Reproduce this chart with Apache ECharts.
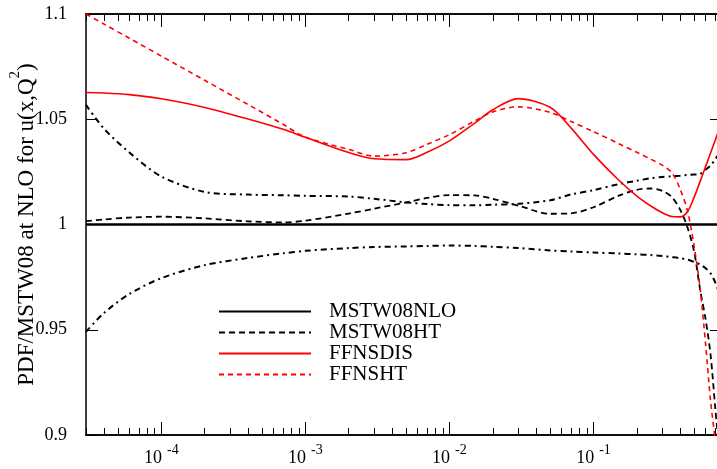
<!DOCTYPE html>
<html>
<head>
<meta charset="utf-8">
<script src="https://cdn.jsdelivr.net/npm/echarts@6/dist/echarts.min.js"></script>
<style>
html,body{margin:0;padding:0;background:#fff;}
#c{width:717px;height:469px;}
</style>
</head>
<body>
<div id="c"></div>
<script>
// x values (Bjorken x) at which curves are sampled
const xValues = [3e-5, 4e-5, 6e-5, 1e-4, 2e-4, 4e-4, 7e-4, 1e-3, 2e-3, 3e-3, 5e-3, 7e-3, 1e-2, 1.5e-2, 2e-2, 3e-2, 5e-2, 7e-2, 0.1, 0.15, 0.2, 0.25, 0.3, 0.35, 0.4, 0.45, 0.5, 0.55, 0.6, 0.65, 0.7, 0.75, 0.8];

const mstw08nlo = xValues.map(() => 1.0);
const mstw08ht = [1.0016, 1.0024, 1.0033, 1.0037, 1.0029, 1.0015, 1.0010, 1.0018, 1.0052, 1.0075, 1.0105, 1.0126, 1.0140, 1.0138, 1.0122, 1.0090, 1.0051, 1.0053, 1.0082, 1.0137, 1.0165, 1.0171, 1.0160, 1.0130, 1.0070, 0.9985, 0.9870, 0.9690, 0.9550, 0.9380, 0.9130, 0.8900, 0.8600];
const ffnsdis = [1.0627, 1.0625, 1.0617, 1.0597, 1.0556, 1.0501, 1.0452, 1.0414, 1.0342, 1.0312, 1.0308, 1.0343, 1.0397, 1.0482, 1.0545, 1.0598, 1.0557, 1.0458, 1.0333, 1.0210, 1.0135, 1.0088, 1.0056, 1.0038, 1.0036, 1.0062, 1.0130, 1.0205, 1.0275, 1.0340, 1.0400, 1.0460, 1.0520];
const ffnsht = [1.1000, 1.0952, 1.0885, 1.0800, 1.0685, 1.0570, 1.0476, 1.0415, 1.0357, 1.0325, 1.0341, 1.0381, 1.0427, 1.0492, 1.0535, 1.0559, 1.0532, 1.0489, 1.0441, 1.0384, 1.0343, 1.0310, 1.0282, 1.0246, 1.0167, 1.0063, 0.9895, 0.9695, 0.9433, 0.9160, 0.8970, 0.8700, 0.8400];
const errUpper = [1.0568, 1.0455, 1.0342, 1.0228, 1.0155, 1.0142, 1.0139, 1.0136, 1.0133, 1.0122, 1.0105, 1.0097, 1.0092, 1.0091, 1.0094, 1.0098, 1.0115, 1.0143, 1.0163, 1.0192, 1.0208, 1.0220, 1.0226, 1.0229, 1.0232, 1.0235, 1.0237, 1.0240, 1.0260, 1.0280, 1.0310, 1.0340, 1.0380];
const errLower = [0.9490, 0.9580, 0.9670, 0.9745, 0.9807, 0.9841, 0.9863, 0.9875, 0.9888, 0.9893, 0.9896, 0.9898, 0.9900, 0.9898, 0.9894, 0.9888, 0.9877, 0.9872, 0.9867, 0.9862, 0.9858, 0.9855, 0.9850, 0.9845, 0.9840, 0.9833, 0.9822, 0.9810, 0.9792, 0.9768, 0.9725, 0.9670, 0.9610];

const xMin = 3e-5, xMax = 0.78;
const yMin = 0.9, yMax = 1.1, yStep = 0.05;
const majorDecades = [-4, -3, -2, -1];
const legendNames = ['MSTW08NLO', 'MSTW08HT', 'FFNSDIS', 'FFNSHT'];

const lx = Math.log10;
const minorTicks = [];
for (let n = -5; n <= -1; n++) {
  for (let k = 2; k <= 9; k++) {
    const v = lx(k * Math.pow(10, n));
    if (v >= lx(xMin) - 1e-9 && v <= lx(xMax)) minorTicks.push(v);
  }
}
const pairs = arr => xValues.map((x, i) => [lx(x), arr[i]]);

const serif = 'Liberation Serif';
const axisLineStyle = { color: '#000', width: 1.5 };

function xAxisDef(pos, ticks, len, labels) {
  return {
    type: 'value', position: pos, min: lx(xMin), max: lx(xMax),
    axisLine: { show: true, lineStyle: axisLineStyle, onZero: false },
    splitLine: { show: false },
    axisTick: { show: true, inside: true, length: len, customValues: ticks, lineStyle: { color: '#000', width: 1 } },
    axisLabel: labels ? {
      show: true, customValues: majorDecades, margin: 8,
      formatter: v => '{b|10}{s|' + Math.round(v) + '}',
      rich: {
        b: { fontFamily: serif, fontSize: 18, color: '#000', lineHeight: 24, verticalAlign: 'bottom' },
        s: { fontFamily: serif, fontSize: 14, color: '#000', lineHeight: 14, verticalAlign: 'top', padding: [0, 0, 0, 5] }
      }
    } : { show: false }
  };
}

function yAxisDef(pos, labels) {
  return {
    type: 'value', position: pos, min: yMin, max: yMax, interval: yStep,
    axisLine: { show: true, lineStyle: axisLineStyle, onZero: false },
    splitLine: { show: false },
    axisTick: { show: true, inside: true, length: 12, lineStyle: { color: '#000', width: 1 } },
    axisLabel: labels ? { show: true, margin: 19, fontFamily: serif, fontSize: 18, color: '#000',
      formatter: v => String(Math.round(v * 100) / 100) } : { show: false },
    name: labels ? '{a|PDF/MSTW08 at NLO for u(x,Q}{s|2}{a|)}' : '',
    nameLocation: 'middle', nameRotate: 90, nameGap: 48, nameMoveOverlap: false,
    nameTextStyle: {
      rich: {
        a: { fontFamily: serif, fontSize: 23, color: '#000', lineHeight: 30, verticalAlign: 'bottom' },
        s: { fontFamily: serif, fontSize: 15, color: '#000', lineHeight: 16, verticalAlign: 'top' }
      }
    }
  };
}

function lineSeries(name, data, color, width, type, z) {
  return {
    name: name, type: 'line', data: pairs(data), xAxisIndex: 0, yAxisIndex: 0,
    showSymbol: false, symbol: 'none', smooth: 0.3, clip: true, z: z || 2,
    lineStyle: { color: color, width: width, type: type },
    itemStyle: { color: color },
    emphasis: { disabled: true }
  };
}

const chart = echarts.init(document.getElementById('c'), null, { renderer: 'canvas' });
chart.setOption({
  animation: false,
  backgroundColor: '#fff',
  grid: { left: 86, top: 14, width: 636, height: 421, containLabel: false, outerBoundsMode: 'none' },
  xAxis: [
    xAxisDef('bottom', majorDecades, 13, true),
    xAxisDef('bottom', minorTicks, 7, false),
    xAxisDef('top', majorDecades, 13, false),
    xAxisDef('top', minorTicks, 7, false)
  ],
  yAxis: [yAxisDef('left', true), yAxisDef('right', false)],
  legend: {
    data: legendNames, orient: 'vertical', left: 213, top: 296,
    itemWidth: 92, itemHeight: 14, itemGap: 0,
    itemStyle: { opacity: 0 },
    textStyle: { fontFamily: serif, fontSize: 21, color: '#000', padding: [0, 0, 0, 13] },
    selectedMode: false
  },
  series: [
    lineSeries('MSTW08NLO', mstw08nlo, '#000', 2.5, 'solid', 3),
    lineSeries('MSTW08HT', mstw08ht, '#000', 1.8, [6, 4], 3),
    lineSeries('FFNSDIS', ffnsdis, '#ff0000', 1.6, 'solid', 4),
    lineSeries('FFNSHT', ffnsht, '#ff0000', 1.6, [5, 4], 4),
    lineSeries('errUpper', errUpper, '#000', 2, [6, 4, 2, 4], 2),
    lineSeries('errLower', errLower, '#000', 2, [6, 4, 2, 4], 2)
  ]
});
</script>
</body>
</html>
